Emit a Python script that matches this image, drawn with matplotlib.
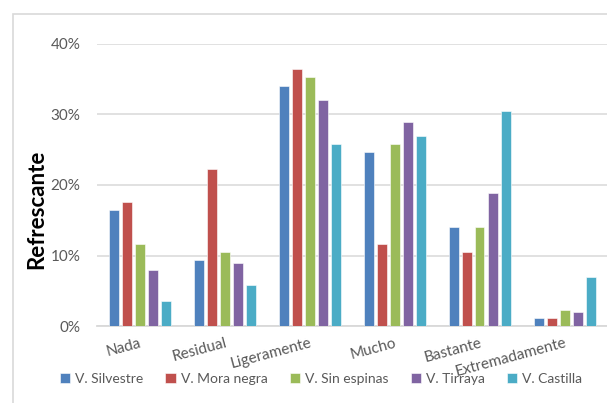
import matplotlib
matplotlib.use("Agg")
import matplotlib.pyplot as plt
import numpy as np
from matplotlib.patches import Rectangle

categories = ["Nada", "Residual", "Ligeramente", "Mucho", "Bastante", "Extremadamente"]
series_names = ["V. Silvestre", "V. Mora negra", "V. Sin espinas", "V. Tirraya", "V. Castilla"]
silvestre = [16.4, 9.4, 34.1, 24.7, 14.1, 1.2]
mora_negra = [17.6, 22.3, 36.5, 11.7, 10.5, 1.2]
sin_espinas = [11.7, 10.5, 35.3, 25.8, 14.1, 2.3]
tirraya = [7.9, 9.0, 32.0, 28.9, 18.9, 2.0]
castilla = [3.5, 5.8, 25.8, 27.0, 30.5, 7.0]
y_ticks = [0, 10, 20, 30, 40]
y_tick_labels = ["0%", "10%", "20%", "30%", "40%"]

colors = ["#4F81BD", "#C0504D", "#9BBB59", "#8064A2", "#4BACC6"]
series = [silvestre, mora_negra, sin_espinas, tirraya, castilla]

plt.rcParams["font.family"] = ["Lato", "DejaVu Sans"]

W, H = 607, 403
fig = plt.figure(figsize=(W / 100, H / 100), dpi=100)

# outer chart frame
fig.patches.append(Rectangle((13 / W, -0.1), 1.2, (H - 14) / H + 0.1,
                             transform=fig.transFigure, fill=False,
                             edgecolor="#D9D9D9", linewidth=1.2))

ax = fig.add_axes([97 / W, (H - 326) / H, (W - 97) / W, (326 - 44) / H])

x = np.arange(len(categories))
step = 13 / 85
width = 10 / 85
for i, (vals, name, c) in enumerate(zip(series, series_names, colors)):
    ax.bar(x + (i - 2) * step, vals, width=width, color=c, label=name,
           edgecolor="white", linewidth=0.4, zorder=3)

ax.set_xlim(-0.5, len(categories) - 0.5)
ax.set_ylim(0, 40)
ax.set_yticks(y_ticks)
ax.set_yticklabels(y_tick_labels, fontsize=11, color="#595959")
ax.yaxis.grid(True, color="#D9D9D9", linewidth=1.1, zorder=0)
ax.tick_params(axis="y", length=0, pad=12)
ax.tick_params(axis="x", length=0, pad=7)
ax.set_xticks(x)
ax.set_xticklabels(categories, rotation=15, ha="right", rotation_mode="anchor",
                   fontsize=11, color="#595959")
for s in ["top", "right", "left"]:
    ax.spines[s].set_visible(False)
ax.spines["bottom"].set_color("#D9D9D9")
ax.spines["bottom"].set_linewidth(1.3)

ax.set_ylabel("Refrescante", fontsize=16, fontweight="bold", color="black")
ax.yaxis.set_label_coords(-0.098, 0.415)

leg = fig.legend(loc="center", bbox_to_anchor=(321 / W, (H - 379) / H), ncol=5,
                 frameon=False, fontsize=10, handlelength=0.75, handleheight=0.75,
                 handletextpad=0.35, columnspacing=1.6, labelcolor="#595959")

fig.savefig("out.png", dpi=100)
